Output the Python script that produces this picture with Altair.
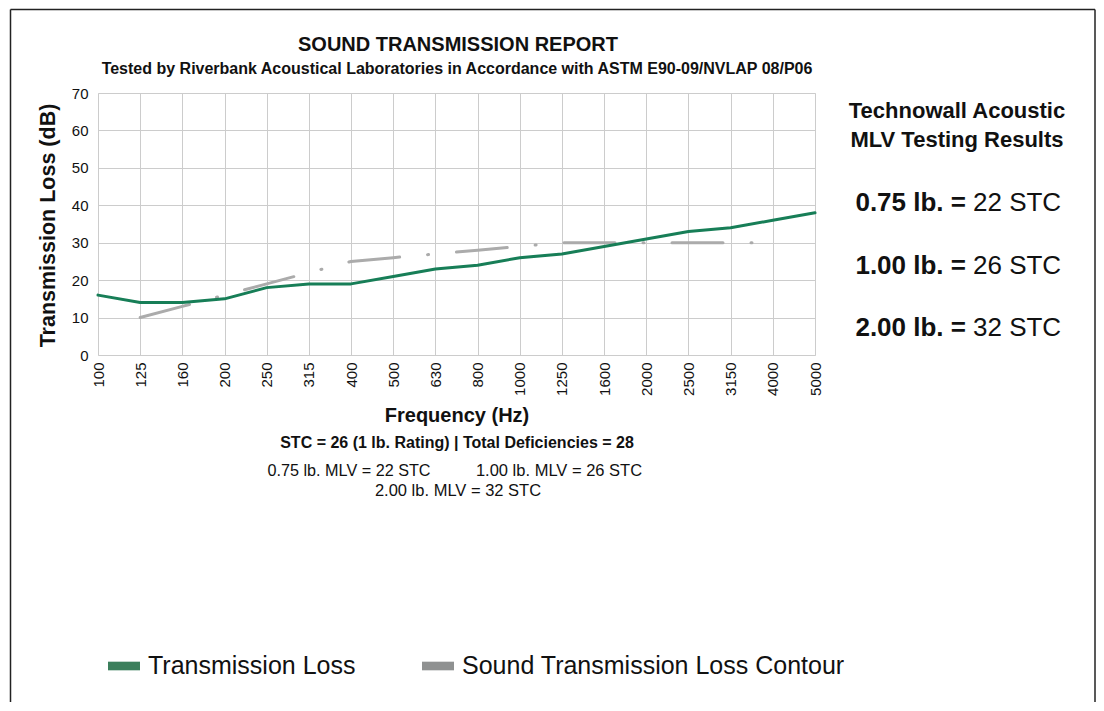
import altair as alt
import pandas as pd

# ---------------- data ----------------
freqs = ["100", "125", "160", "200", "250", "315", "400", "500", "630", "800",
         "1000", "1250", "1600", "2000", "2500", "3150", "4000", "5000"]
transmission_loss = [16, 14, 14, 15, 18, 19, 19, 21, 23, 24, 26, 27, 29, 31, 33, 34, 36, 38]

contour_freqs = ["125", "160", "200", "250", "315", "400", "500", "630", "800",
                 "1000", "1250", "1600", "2000", "2500", "3150", "4000"]
contour_values = [10, 13, 16, 19, 22, 25, 26, 27, 28, 29, 30, 30, 30, 30, 30, 30]

series_names = ["Transmission Loss", "Sound Transmission Loss Contour"]
y_ticks = [0, 10, 20, 30, 40, 50, 60, 70]

title_text = "SOUND TRANSMISSION REPORT"
subtitle_text = "Tested by Riverbank Acoustical Laboratories in Accordance with ASTM E90-09/NVLAP 08/P06"
stc_line = "STC = 26 (1 lb. Rating) | Total Deficiencies = 28"
mlv_left = "0.75 lb. MLV = 22 STC"
mlv_right = "1.00 lb. MLV = 26 STC"
mlv_bottom = "2.00 lb. MLV = 32 STC"
side_title = ["Technowall Acoustic", "MLV Testing Results"]
side_bold = ["0.75 lb. =", "1.00 lb. =", "2.00 lb. ="]
side_regular = ["22 STC", "26 STC", "32 STC"]

# ---------------- styles ----------------
FONT = "Liberation Sans"
GREEN = "#177e57"
GREY_LINE = "#ababab"
LEGEND_COLORS = ["#3b7f5c", "#8f9191"]
W, H = 717, 262

tl_df = pd.DataFrame({"freq": freqs, "value": transmission_loss})
ct_df = pd.DataFrame({"freq": contour_freqs, "value": contour_values})

x_enc = alt.X(
    "freq:N", sort=freqs,
    scale=alt.Scale(domain=freqs, type="point", padding=0),
    axis=alt.Axis(
        title="Frequency (Hz)", labelAngle=-90, labelPadding=7, ticks=False, domain=False,
        labelFontSize=15, labelFont=FONT, labelColor="#111111",
        titleFont=FONT, titleFontSize=20, titleFontWeight="bold", titleColor="#111111",
        titleY=60, titleBaseline="middle", gridColor="#cccccc", grid=True,
    ),
)
y_enc = alt.Y(
    "value:Q",
    scale=alt.Scale(domain=[0, 70], nice=False),
    axis=alt.Axis(
        title="Transmission Loss (dB)", values=y_ticks, ticks=False, domain=False,
        labelPadding=10, labelFontSize=15, labelFont=FONT, labelColor="#111111",
        titleFont=FONT, titleFontSize=21.5, titleFontWeight="bold", titleColor="#111111",
        titleX=-50, titleY=132, titleAngle=-90, titleAlign="center", titleBaseline="middle",
        gridColor="#cccccc",
    ),
)

contour = alt.Chart(ct_df).mark_line(
    strokeWidth=3, strokeCap="round", strokeJoin="round",
    strokeDash=[51, 28, 1, 28], color=GREY_LINE,
).encode(x=x_enc, y=y_enc)

tl = alt.Chart(tl_df).mark_line(
    strokeWidth=3, strokeCap="round", strokeJoin="round", color=GREEN,
).encode(x=x_enc, y=y_enc)

legend_df = pd.DataFrame({"series": series_names})
legend_layer = alt.Chart(legend_df).transform_filter("false").mark_point(
    filled=True, opacity=1
).encode(
    fill=alt.Fill(
        "series:N",
        scale=alt.Scale(domain=series_names, range=LEGEND_COLORS),
        legend=alt.Legend(
            title=None, orient="none", legendX=10, legendY=557, direction="horizontal",
            symbolType="M-1,-0.27H1V0.27H-1Z", symbolSize=1024, symbolStrokeWidth=0,
            symbolOpacity=1, labelFontSize=25, labelFont=FONT, labelColor="#111111",
            labelOffset=8, columnPadding=66, padding=0, labelLimit=600,
        ),
    )
)

one = pd.DataFrame({"a": [0]})


def txt(text, x, y, size, bold=False, align="center", baseline="middle"):
    return alt.Chart(pd.DataFrame({"t": [text]})).mark_text(
        font=FONT, fontSize=size, fontWeight="bold" if bold else "normal",
        align=align, baseline=baseline, color="#111111",
    ).encode(x=alt.value(x), y=alt.value(y), text="t:N")


texts = [
    txt(title_text, 360, -48, 20, bold=True),
    txt(subtitle_text, 359, -24, 16, bold=True),
    txt(stc_line, 359, 350, 16, bold=True),
    txt(mlv_left, 251, 378, 16.2),
    txt(mlv_right, 461, 378, 16.5),
    txt(mlv_bottom, 360, 398, 16.5),
    txt(side_title[0], 859, 18, 22, bold=True),
    txt(side_title[1], 859, 47, 22, bold=True),
]
for i, yy in enumerate([110, 173, 235]):
    texts.append(txt(side_bold[i], 868, yy, 26, bold=True, align="right"))
    texts.append(txt(side_regular[i], 875, yy, 26, align="left"))

frame = [
    alt.Chart(one).mark_rule(color="#222222", strokeWidth=1.5).encode(
        x=alt.value(-87.5), y=alt.value(-83.5), y2=alt.value(610)),
    alt.Chart(one).mark_rule(color="#222222", strokeWidth=1.5).encode(
        x=alt.value(997), y=alt.value(-83.5), y2=alt.value(610)),
    alt.Chart(one).mark_rule(color="#222222", strokeWidth=1.5).encode(
        x=alt.value(-87.5), x2=alt.value(997), y=alt.value(-83.5)),
]

chart = alt.layer(
    contour, tl, legend_layer, *texts, *frame
).properties(
    width=W, height=H,
    autosize=alt.AutoSizeParams(type="none"),
    padding={"left": 90, "top": 85, "right": 281, "bottom": 347},
).configure_view(
    stroke="#cccccc", strokeWidth=1
).configure(background="white")

chart.save("out.html", embed_options={"renderer": "svg", "actions": False})
